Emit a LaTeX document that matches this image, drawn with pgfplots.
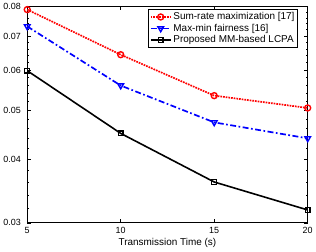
\documentclass[border=0pt]{standalone}
\usepackage{pgfplots}
\pgfplotsset{compat=1.18}
\usepackage{fontspec}
\setmainfont{Liberation Sans}
\begin{document}
\begin{tikzpicture}
\begin{axis}[
  scale only axis,
  width=281bp, height=216.7bp,
  xmin=5, xmax=20,
  ymode=log,
  ymin=0.03, ymax=0.08,
  clip=false,
  xtick={5,10,15,20},
  ytick={0.03,0.04,0.05,0.06,0.07,0.08},
  yticklabels={0.03,0.04,0.05,0.06,0.07,0.08},
  minor ytick={0.032,0.034,0.036,0.038,0.042,0.044,0.046,0.048,0.052,0.054,0.056,0.058,0.062,0.064,0.066,0.068,0.072,0.074,0.076,0.078},
  /pgf/number format/assume math mode=true,
  tick label style={font=\fontsize{9}{10}\selectfont},
  label style={font=\fontsize{10}{11}\selectfont},
  xlabel={Transmission Time (s)},
  xlabel style={yshift=2pt},
  yticklabel style={xshift=-3pt},
  xticklabel style={yshift=-1pt},
  axis line style={line width=1pt},
  major tick length=4pt,
  minor tick length=2.2pt,
  tick style={black, line width=0.6pt},
  legend style={at={(0.967,0.99)}, anchor=north east, font=\fontsize{10}{11}\selectfont, draw=black, line width=1pt, inner sep=1.5pt, row sep=-1.2pt, legend cell align=left},
  legend image code/.code={\draw[mark repeat=2,mark phase=2] plot coordinates {(0cm,0cm) (0.35cm,0cm) (0.7cm,0cm)};},
]
\addplot[red, densely dotted, line width=1.7pt, mark=o, mark size=3pt, mark options={solid, line width=1.4pt}]
  coordinates {(5,0.0789) (10,0.0643) (15,0.0534) (20,0.0505)};
\addlegendentry{Sum-rate maximization [17]}
\addplot[blue, dash pattern=on 6pt off 2.5pt on 1.7pt off 2.5pt, line width=1.7pt, mark=triangle, mark size=3.3pt, mark options={solid, rotate=180, line width=1.4pt}]
  coordinates {(5,0.0731) (10,0.0559) (15,0.0473) (20,0.0440)};
\addlegendentry{Max-min fairness [16]}
\addplot[black, solid, line width=1.6pt, mark=square, mark size=2.4pt, mark options={solid, line width=1.3pt}]
  coordinates {(5,0.0598) (10,0.0450) (15,0.0361) (20,0.0318)};
\addlegendentry{Proposed MM-based LCPA}
\path (rel axis cs:0,1) -- ++(0pt,6bp);
\end{axis}
\end{tikzpicture}
\end{document}
